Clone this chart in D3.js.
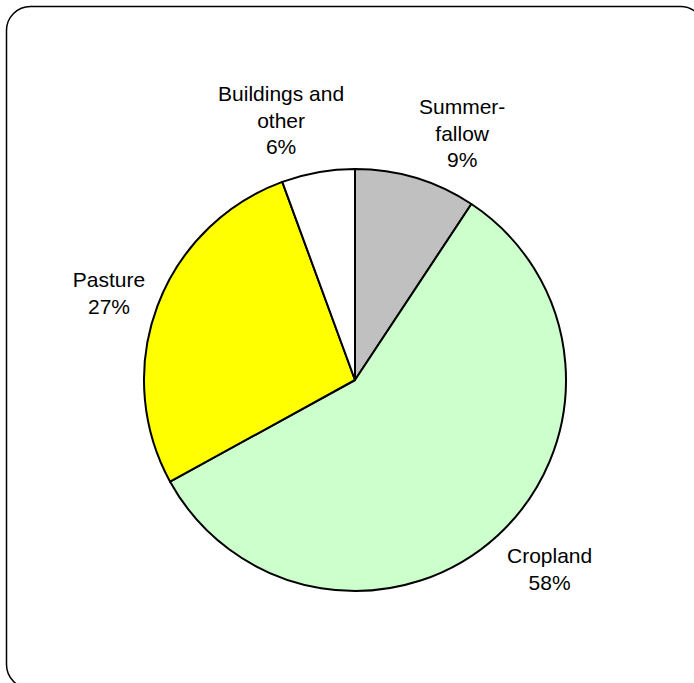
<!DOCTYPE html>
<html>
<head>
<meta charset="utf-8">
<script src="https://cdn.jsdelivr.net/npm/d3@7"></script>
<style>
  html, body { margin: 0; padding: 0; background: #fff; }
  svg { display: block; }
</style>
</head>
<body>
<svg id="chart" width="694" height="683"></svg>
<script>
// Data (clockwise from 12 o'clock)
const categories = ["Summerfallow", "Cropland", "Pasture", "Buildings and other"];
const values = [9.3, 57.7, 27.4, 5.6];
const labelLines = [["Summer-", "fallow"], ["Cropland"], ["Pasture"], ["Buildings and", "other"]];
const colors = ["#C0C0C0", "#CCFFCC", "#FFFF00", "#FFFFFF"];
// small nudges for label placement (px), relative to label arc centroid
const labelNudge = [[30, 10], [13, -8], [5, 7], [-27, 4]];

const svg = d3.select("#chart");
const W = 694, H = 683;

// outer rounded frame (extends past right/bottom edges as in the reference)
svg.append("rect")
  .attr("x", 6.5).attr("y", 6.5)
  .attr("width", 698).attr("height", 682)
  .attr("rx", 24).attr("ry", 24)
  .attr("fill", "#fff")
  .attr("stroke", "#000")
  .attr("stroke-width", 1.5);

const cx = 355, cy = 380, r = 211;

const pie = d3.pie().sort(null).value(d => d)(values);
const arc = d3.arc().innerRadius(0).outerRadius(r);
const labelArc = d3.arc().innerRadius(268).outerRadius(268);

const g = svg.append("g").attr("transform", `translate(${cx},${cy})`);

g.selectAll("path.slice")
  .data(pie)
  .join("path")
  .attr("class", "slice")
  .attr("d", arc)
  .attr("fill", (d, i) => colors[i])
  .attr("stroke", "#000")
  .attr("stroke-width", 2)
  .attr("stroke-linejoin", "round");

const fontSize = 21, lh = 26.5, capHalf = 7.5;
const total = d3.sum(values);

pie.forEach((d, i) => {
  const [x0, y0] = labelArc.centroid(d);
  const x = x0 + labelNudge[i][0];
  const y = y0 + labelNudge[i][1];
  const lines = labelLines[i].concat([Math.round(values[i] / total * 100) + "%"]);
  const first = y - (lines.length - 1) / 2 * lh + capHalf;
  const t = g.append("text")
    .attr("text-anchor", "middle")
    .attr("font-family", "'Liberation Sans', Arial, sans-serif")
    .attr("font-size", fontSize)
    .attr("fill", "#000");
  lines.forEach((ln, k) => {
    t.append("tspan").attr("x", x).attr("y", first + k * lh).text(ln);
  });
});
</script>
</body>
</html>
